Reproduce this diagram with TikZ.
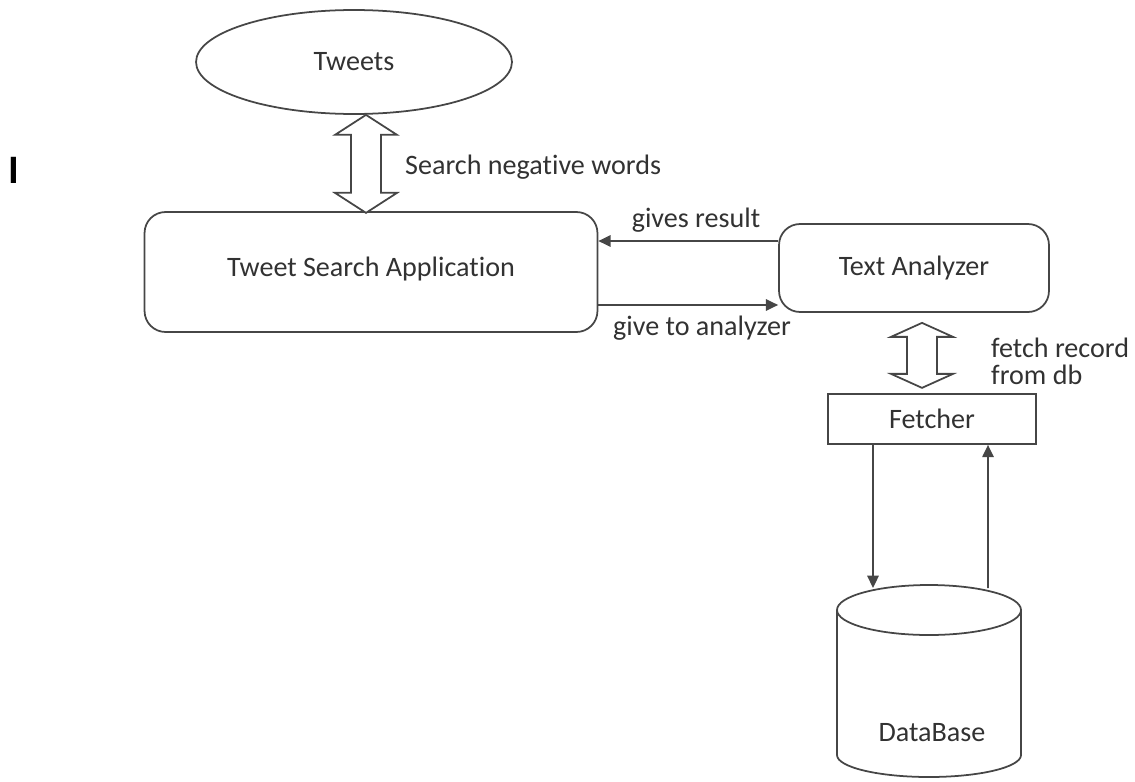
\documentclass[tikz,border=0pt]{standalone}
\usepackage{fontspec}
\setmainfont{Carlito}[Ligatures=NoCommon]
\usetikzlibrary{arrows.meta,shapes.geometric,calc}
\definecolor{inkgray}{RGB}{50,50,50}
\definecolor{linegray}{RGB}{70,70,70}

\begin{document}
\begin{tikzpicture}[x=0.02cm,y=0.02cm,
    every node/.style={text=inkgray,font=\fontsize{16}{19}\selectfont},
    box/.style={draw=linegray,line width=1pt,inner sep=0pt},
    roundbox/.style={box,rounded corners=0.42cm},
    conn/.style={draw=linegray,line width=1pt,-{Triangle[length=7pt,width=6.5pt]}},
    hollow/.style={draw=linegray,line width=1pt,fill=white}]
  \useasboundingbox (0,0) rectangle (1135,-781);

  % Draw the boxes
  \node[box,ellipse,minimum width=6.32cm,minimum height=2.08cm] (tweets) at (354,-62) {Tweets};
  \node[roundbox,minimum width=9.06cm,minimum height=2.4cm,text depth=0.2cm] (tsa) at (371,-272) {Tweet Search Application};
  \node[roundbox,minimum width=5.4cm,minimum height=1.76cm] (ta) at (914,-268) {Text Analyzer};
  \node[box,minimum width=4.16cm,minimum height=1cm] (fetcher) at (932,-419) {Fetcher};

  % Draw the database cylinder
  \draw[box] (837,-610) -- (837,-755) arc[start angle=180,end angle=360,x radius=92,y radius=22] -- (1021,-610);
  \draw[box] (929,-610) ellipse [x radius=92,y radius=25];
  \node (db) at (932,-733) {DataBase};
  \coordinate (dbin) at (873,-588);
  \coordinate (dbout) at (988,-588);

  % Stray mark on the left
  \node[text=black,font=\fontsize{23}{26}\selectfont\bfseries] (mark) at (14,-170) {I};

  % Draw the hollow double arrows
  \coordinate (tip1) at ($(tweets.south)+(12,0)$);
  \draw[hollow] (tip1) -- ++(31,-20) -- ++(-16,0) -- ++(0,-58) -- ++(16,0) -- ++(-31,-20)
    -- ++(-31,20) -- ++(16,0) -- ++(0,58) -- ++(-16,0) -- cycle;
  \coordinate (tip2) at ($(ta.south)+(8,-10)$);
  \draw[hollow] (tip2) -- ++(31,-14) -- ++(-16,0) -- ++(0,-37) -- ++(16,0) -- ++(-31,-14)
    -- ++(-31,14) -- ++(16,0) -- ++(0,37) -- ++(-16,0) -- cycle;

  % Draw the arrows between the boxes
  \coordinate (r1) at ([yshift=0.54cm]ta.west);
  \coordinate (g1) at ([yshift=-0.74cm]ta.west);
  \draw[conn] (r1) -- (r1 -| tsa.east);
  \draw[conn] (g1 -| tsa.east) -- (g1);
  \draw[conn] ([xshift=-1.18cm]fetcher.south) -- (dbin);
  \draw[conn] (dbout) -- ([xshift=1.12cm]fetcher.south);

  % Labels
  \node[anchor=west] (searchlbl) at (399,-167) {Search negative words};
  \node (resultlbl) at (696,-220) {gives result};
  \node (givelbl) at (702,-328) {give to analyzer};
  \node[anchor=west,align=left,font=\fontsize{16}{15.5}\selectfont] (fetchlbl) at (985,-361) {fetch record\\from db};
\end{tikzpicture}
\end{document}
